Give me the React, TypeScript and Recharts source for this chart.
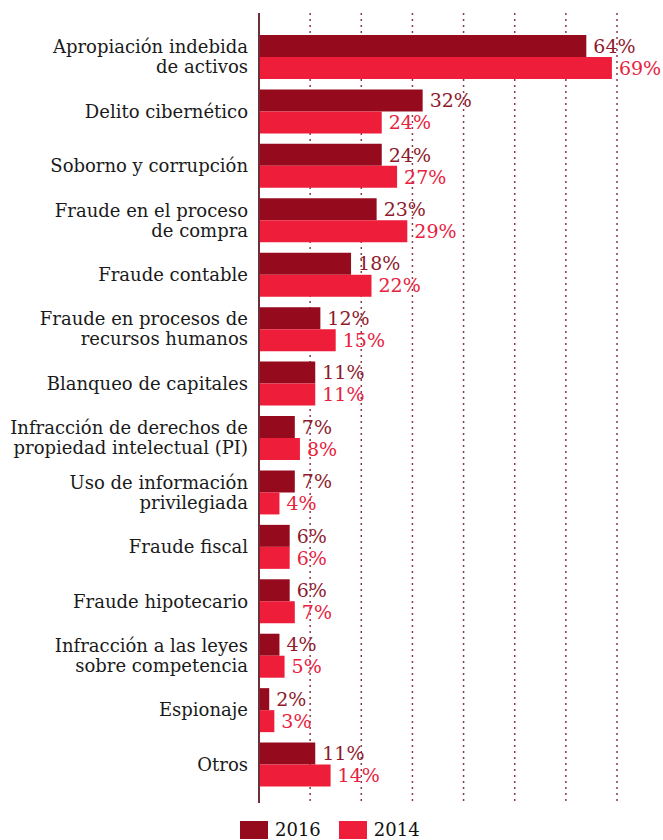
import React from 'react'
import { BarChart, Bar, XAxis, YAxis, CartesianGrid, LabelList, Legend } from 'recharts'

const categories = [
  'Apropiación indebida\nde activos',
  'Delito cibernético',
  'Soborno y corrupción',
  'Fraude en el proceso\nde compra',
  'Fraude contable',
  'Fraude en procesos de\nrecursos humanos',
  'Blanqueo de capitales',
  'Infracción de derechos de\npropiedad intelectual (PI)',
  'Uso de información\nprivilegiada',
  'Fraude fiscal',
  'Fraude hipotecario',
  'Infracción a las leyes\nsobre competencia',
  'Espionaje',
  'Otros',
]
const values2016 = [64, 32, 24, 23, 18, 12, 11, 7, 7, 6, 6, 4, 2, 11]
const values2014 = [69, 24, 27, 29, 22, 15, 11, 8, 4, 6, 7, 5, 3, 14]
const seriesNames = ['2016', '2014']
const xTicks = [0, 10, 20, 30, 40, 50, 60, 70]

const DARK = '#960a1e'
const BRIGHT = '#ee1d39'
const SERIF = "'DejaVu Serif', serif"

const data = categories.map((name, i) => ({ name, y2016: values2016[i], y2014: values2014[i] }))

function CategoryTick(props: any) {
  const { x, y, payload } = props
  const lines = String(payload.value).split('\n')
  return (
    <text x={x} y={y} textAnchor="end" fill="#1a1a1a" fontFamily={SERIF} fontSize={18}>
      {lines.map((line, i) => (
        <tspan key={i} x={x} dy={i === 0 ? 6 - ((lines.length - 1) / 2) * 20 : 20}>{line}</tspan>
      ))}
    </text>
  )
}

function LegendContent({ payload }: any) {
  const items = [...(payload ?? [])].sort(
    (a: any, b: any) => seriesNames.indexOf(a.value) - seriesNames.indexOf(b.value)
  )
  return (
    <div style={{ display: 'flex', paddingLeft: 240, paddingTop: 18, height: 30, boxSizing: 'border-box' }}>
      {items.map((p: any) => (
        <div key={p.value} style={{ display: 'flex', alignItems: 'flex-start', marginRight: 18 }}>
          <span style={{ width: 28, height: 18, background: p.color, display: 'inline-block' }} />
          <span style={{ fontFamily: SERIF, fontSize: 18, color: '#111', marginLeft: 7, lineHeight: '18px' }}>{p.value}</span>
        </div>
      ))}
    </div>
  )
}

export default function App() {
  return (
    <div style={{ position: 'absolute', left: 0, top: 0, background: '#fff' }}>
      <BarChart
        width={663}
        height={840}
        data={data}
        layout="vertical"
        margin={{ top: 13, right: 46, left: 0, bottom: 7 }}
        barGap={0}
        barSize={22}
      >
        <CartesianGrid horizontal={false} stroke="#8a3a48" strokeDasharray="2 4" strokeWidth={1.5} />
        <XAxis type="number" domain={[0, 70]} ticks={xTicks} hide />
        <YAxis
          type="category"
          dataKey="name"
          width={259}
          interval={0}
          tickSize={0}
          tickMargin={11}
          tick={<CategoryTick />}
          axisLine={{ stroke: '#6e3038', strokeWidth: 2 }}
          padding={{ top: 17, bottom: 11 }}
        />
        <Legend verticalAlign="bottom" align="left" content={<LegendContent />} />
        <Bar dataKey="y2016" name={seriesNames[0]} fill={DARK} isAnimationActive={false}>
          <LabelList dataKey="y2016" position="right" offset={7} formatter={(v: any) => `${v}%`} fill="#8e1a2c" fontFamily={SERIF} fontSize={19} />
        </Bar>
        <Bar dataKey="y2014" name={seriesNames[1]} fill={BRIGHT} isAnimationActive={false}>
          <LabelList dataKey="y2014" position="right" offset={7} formatter={(v: any) => `${v}%`} fill="#e8223e" fontFamily={SERIF} fontSize={19} />
        </Bar>
      </BarChart>
    </div>
  )
}
